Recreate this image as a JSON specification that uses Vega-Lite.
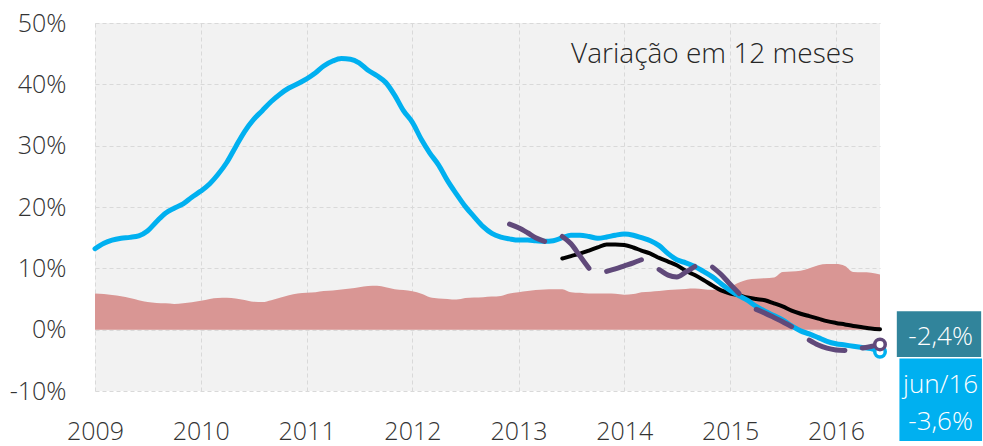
{
  "$schema": "https://vega.github.io/schema/vega-lite/v6.json",
  "width": 785,
  "height": 368,
  "autosize": {"type": "none"},
  "padding": {"left": 95, "top": 23, "right": 103, "bottom": 55},
  "background": "white",
  "config": {
    "view": {"fill": "#F2F2F2", "stroke": null},
    "axis": {
      "grid": true, "gridColor": "#D9D9D9", "gridDash": [4, 3], "gridWidth": 1,
      "domain": false, "ticks": false,
      "labelFont": "Open Sans", "labelFontSize": 25, "labelFontWeight": 300, "labelColor": "#333333",
      "labelFlush": false, "labelOverlap": false
    }
  },
  "datasets": {
    "main": [
      {"t": "2009-01", "inflacao": 5.9, "serie1": 13.2},
      {"t": "2009-02", "inflacao": 5.8, "serie1": 14.1},
      {"t": "2009-03", "inflacao": 5.65, "serie1": 14.6},
      {"t": "2009-04", "inflacao": 5.45, "serie1": 14.9},
      {"t": "2009-05", "inflacao": 5.15, "serie1": 15.05},
      {"t": "2009-06", "inflacao": 4.8, "serie1": 15.3},
      {"t": "2009-07", "inflacao": 4.5, "serie1": 16.1},
      {"t": "2009-08", "inflacao": 4.35, "serie1": 17.6},
      {"t": "2009-09", "inflacao": 4.3, "serie1": 19.0},
      {"t": "2009-10", "inflacao": 4.2, "serie1": 19.8},
      {"t": "2009-11", "inflacao": 4.3, "serie1": 20.5},
      {"t": "2009-12", "inflacao": 4.45, "serie1": 21.6},
      {"t": "2010-01", "inflacao": 4.7, "serie1": 22.6},
      {"t": "2010-02", "inflacao": 5.0, "serie1": 23.8},
      {"t": "2010-03", "inflacao": 5.15, "serie1": 25.3},
      {"t": "2010-04", "inflacao": 5.2, "serie1": 27.3},
      {"t": "2010-05", "inflacao": 5.1, "serie1": 29.8},
      {"t": "2010-06", "inflacao": 4.85, "serie1": 32.3},
      {"t": "2010-07", "inflacao": 4.55, "serie1": 34.2},
      {"t": "2010-08", "inflacao": 4.5, "serie1": 35.7},
      {"t": "2010-09", "inflacao": 4.8, "serie1": 37.2},
      {"t": "2010-10", "inflacao": 5.2, "serie1": 38.4},
      {"t": "2010-11", "inflacao": 5.6, "serie1": 39.4},
      {"t": "2010-12", "inflacao": 5.9, "serie1": 40.1},
      {"t": "2011-01", "inflacao": 6.0, "serie1": 40.9},
      {"t": "2011-02", "inflacao": 6.1, "serie1": 41.9},
      {"t": "2011-03", "inflacao": 6.3, "serie1": 43.0},
      {"t": "2011-04", "inflacao": 6.4, "serie1": 43.8},
      {"t": "2011-05", "inflacao": 6.55, "serie1": 44.2},
      {"t": "2011-06", "inflacao": 6.7, "serie1": 44.1},
      {"t": "2011-07", "inflacao": 6.9, "serie1": 43.5},
      {"t": "2011-08", "inflacao": 7.1, "serie1": 42.3},
      {"t": "2011-09", "inflacao": 7.15, "serie1": 41.4},
      {"t": "2011-10", "inflacao": 6.9, "serie1": 40.3},
      {"t": "2011-11", "inflacao": 6.6, "serie1": 38.2},
      {"t": "2011-12", "inflacao": 6.45, "serie1": 35.7},
      {"t": "2012-01", "inflacao": 6.25, "serie1": 33.8},
      {"t": "2012-02", "inflacao": 5.85, "serie1": 31.0},
      {"t": "2012-03", "inflacao": 5.3, "serie1": 28.8},
      {"t": "2012-04", "inflacao": 5.1, "serie1": 26.8},
      {"t": "2012-05", "inflacao": 5.0, "serie1": 24.3},
      {"t": "2012-06", "inflacao": 4.9, "serie1": 22.1},
      {"t": "2012-07", "inflacao": 5.15, "serie1": 20.1},
      {"t": "2012-08", "inflacao": 5.25, "serie1": 18.4},
      {"t": "2012-09", "inflacao": 5.3, "serie1": 16.8},
      {"t": "2012-10", "inflacao": 5.4, "serie1": 15.7},
      {"t": "2012-11", "inflacao": 5.5, "serie1": 15.1},
      {"t": "2012-12", "inflacao": 5.9, "serie1": 14.8},
      {"t": "2013-01", "inflacao": 6.1, "serie1": 14.6},
      {"t": "2013-02", "inflacao": 6.3, "serie1": 14.6},
      {"t": "2013-03", "inflacao": 6.45, "serie1": 14.5},
      {"t": "2013-04", "inflacao": 6.55, "serie1": 14.4},
      {"t": "2013-05", "inflacao": 6.6, "serie1": 14.5},
      {"t": "2013-06", "inflacao": 6.6, "serie1": 15.0, "serie2": 11.6},
      {"t": "2013-07", "inflacao": 6.1, "serie1": 15.4, "serie2": 12.0},
      {"t": "2013-08", "inflacao": 6.0, "serie1": 15.4, "serie2": 12.4},
      {"t": "2013-09", "inflacao": 5.9, "serie1": 15.2, "serie2": 12.9},
      {"t": "2013-10", "inflacao": 5.9, "serie1": 14.9, "serie2": 13.4},
      {"t": "2013-11", "inflacao": 5.9, "serie1": 15.1, "serie2": 13.9},
      {"t": "2013-12", "inflacao": 5.85, "serie1": 15.4, "serie2": 13.9},
      {"t": "2014-01", "inflacao": 5.7, "serie1": 15.6, "serie2": 13.8},
      {"t": "2014-02", "inflacao": 5.8, "serie1": 15.4, "serie2": 13.4},
      {"t": "2014-03", "inflacao": 6.1, "serie1": 15.0, "serie2": 12.9},
      {"t": "2014-04", "inflacao": 6.2, "serie1": 14.5, "serie2": 12.4},
      {"t": "2014-05", "inflacao": 6.3, "serie1": 13.7, "serie2": 11.7},
      {"t": "2014-06", "inflacao": 6.45, "serie1": 12.4, "serie2": 11.1},
      {"t": "2014-07", "inflacao": 6.55, "serie1": 11.4, "serie2": 10.5},
      {"t": "2014-08", "inflacao": 6.65, "serie1": 10.9, "serie2": 9.6},
      {"t": "2014-09", "inflacao": 6.7, "serie1": 10.3, "serie2": 8.9},
      {"t": "2014-10", "inflacao": 6.6, "serie1": 9.5, "serie2": 8.1},
      {"t": "2014-11", "inflacao": 6.5, "serie1": 8.6, "serie2": 7.2},
      {"t": "2014-12", "inflacao": 6.6, "serie1": 7.5, "serie2": 6.4},
      {"t": "2015-01", "inflacao": 7.0, "serie1": 6.4, "serie2": 5.9},
      {"t": "2015-02", "inflacao": 7.7, "serie1": 5.5, "serie2": 5.6},
      {"t": "2015-03", "inflacao": 8.15, "serie1": 4.8, "serie2": 5.25},
      {"t": "2015-04", "inflacao": 8.3, "serie1": 3.8, "serie2": 5.0},
      {"t": "2015-05", "inflacao": 8.4, "serie1": 3.0, "serie2": 4.8},
      {"t": "2015-06", "inflacao": 8.5, "serie1": 2.3, "serie2": 4.3},
      {"t": "2015-07", "inflacao": 9.4, "serie1": 1.6, "serie2": 3.8},
      {"t": "2015-08", "inflacao": 9.5, "serie1": 0.6, "serie2": 3.1},
      {"t": "2015-09", "inflacao": 9.6, "serie1": -0.2, "serie2": 2.6},
      {"t": "2015-10", "inflacao": 10.0, "serie1": -0.7, "serie2": 2.2},
      {"t": "2015-11", "inflacao": 10.5, "serie1": -1.3, "serie2": 1.8},
      {"t": "2015-12", "inflacao": 10.7, "serie1": -1.9, "serie2": 1.4},
      {"t": "2016-01", "inflacao": 10.7, "serie1": -2.3, "serie2": 1.1},
      {"t": "2016-02", "inflacao": 10.4, "serie1": -2.5, "serie2": 0.85},
      {"t": "2016-03", "inflacao": 9.4, "serie1": -2.7, "serie2": 0.6},
      {"t": "2016-04", "inflacao": 9.35, "serie1": -2.9, "serie2": 0.4},
      {"t": "2016-05", "inflacao": 9.3, "serie1": -3.1, "serie2": 0.2},
      {"t": "2016-06", "inflacao": 9.0, "serie1": -3.6, "serie2": 0.05}
    ],
    "roxo": [
      {"t": "2012-12", "v": 17.2, "seg": 1},
      {"t": "2013-01", "v": 16.6, "seg": 1},
      {"t": "2013-02", "v": 15.8, "seg": 1},
      {"t": "2013-03", "v": 15.0, "seg": 1},
      {"t": "2013-04", "v": 14.4, "seg": 1},
      {"t": "2013-06", "v": 15.2, "seg": 2},
      {"t": "2013-07", "v": 14.0, "seg": 2},
      {"t": "2013-08", "v": 12.0, "seg": 2},
      {"t": "2013-09", "v": 10.0, "seg": 2},
      {"t": "2013-11", "v": 9.5, "seg": 3},
      {"t": "2013-12", "v": 9.9, "seg": 3},
      {"t": "2014-01", "v": 10.4, "seg": 3},
      {"t": "2014-02", "v": 10.9, "seg": 3},
      {"t": "2014-03", "v": 11.4, "seg": 3},
      {"t": "2014-05", "v": 9.8, "seg": 4},
      {"t": "2014-06", "v": 8.9, "seg": 4},
      {"t": "2014-07", "v": 8.6, "seg": 4},
      {"t": "2014-08", "v": 9.4, "seg": 4},
      {"t": "2014-09", "v": 10.3, "seg": 4},
      {"t": "2014-11", "v": 10.2, "seg": 5},
      {"t": "2014-12", "v": 9.0, "seg": 5},
      {"t": "2015-01", "v": 7.4, "seg": 5},
      {"t": "2015-02", "v": 5.9, "seg": 5},
      {"t": "2015-04", "v": 3.3, "seg": 6},
      {"t": "2015-05", "v": 2.7, "seg": 6},
      {"t": "2015-06", "v": 2.0, "seg": 6},
      {"t": "2015-07", "v": 1.3, "seg": 6},
      {"t": "2015-08", "v": 0.5, "seg": 6},
      {"t": "2015-10", "v": -1.7, "seg": 7},
      {"t": "2015-11", "v": -2.5, "seg": 7},
      {"t": "2015-12", "v": -3.0, "seg": 7},
      {"t": "2016-01", "v": -3.3, "seg": 7},
      {"t": "2016-02", "v": -3.4, "seg": 7},
      {"t": "2016-04", "v": -3.0, "seg": 8},
      {"t": "2016-05", "v": -2.75, "seg": 8},
      {"t": "2016-06", "v": -2.4, "seg": 8}
    ]
  },
  "layer": [
    {
      "data": {"name": "main"},
      "mark": {"type": "area", "color": "#D99694", "interpolate": "monotone"},
      "encoding": {
        "x": {
          "field": "t", "type": "temporal", "title": null,
          "scale": {"type": "utc", "nice": false, "domain": [{"year": 2009, "month": 1, "date": 1, "utc": true}, {"year": 2016, "month": 6, "date": 1, "utc": true}]},
          "axis": {"tickCount": {"interval": "year", "step": 1}, "format": "%Y", "labelPadding": 28}
        },
        "y": {
          "field": "inflacao", "type": "quantitative", "title": null,
          "scale": {"domain": [-10, 50], "nice": false, "zero": false},
          "axis": {"values": [-10, 0, 10, 20, 30, 40, 50], "labelExpr": "datum.value + '%'", "labelPadding": 29}
        }
      }
    },
    {
      "data": {"name": "main"},
      "mark": {"type": "line", "color": "#000000", "strokeWidth": 4, "interpolate": "monotone", "strokeCap": "round"},
      "encoding": {
        "x": {"field": "t", "type": "temporal", "title": null},
        "y": {"field": "serie2", "type": "quantitative", "title": null}
      }
    },
    {
      "data": {"name": "main"},
      "mark": {"type": "line", "color": "#00B0F0", "strokeWidth": 5, "interpolate": "monotone", "strokeCap": "round"},
      "encoding": {
        "x": {"field": "t", "type": "temporal", "title": null},
        "y": {"field": "serie1", "type": "quantitative", "title": null}
      }
    },
    {
      "data": {"name": "roxo"},
      "mark": {"type": "line", "color": "#60497A", "strokeWidth": 5, "interpolate": "monotone", "strokeCap": "round"},
      "encoding": {
        "x": {"field": "t", "type": "temporal", "title": null},
        "y": {"field": "v", "type": "quantitative", "title": null},
        "detail": {"field": "seg", "type": "nominal"}
      }
    },
    {
      "data": {"values": [{}]},
      "mark": {"type": "point", "shape": "circle", "filled": true, "fill": "white", "stroke": "#00B0F0", "strokeWidth": 3.5, "size": 110, "opacity": 1},
      "encoding": {
        "x": {"datum": {"year": 2016, "month": 6, "date": 1, "utc": true}, "type": "temporal"},
        "y": {"datum": -3.6, "type": "quantitative"}
      }
    },
    {
      "data": {"values": [{}]},
      "mark": {"type": "point", "shape": "circle", "filled": true, "fill": "white", "stroke": "#60497A", "strokeWidth": 3.5, "size": 110, "opacity": 1},
      "encoding": {
        "x": {"datum": {"year": 2016, "month": 6, "date": 1, "utc": true}, "type": "temporal"},
        "y": {"datum": -2.4, "type": "quantitative"}
      }
    },
    {
      "data": {"values": [{}]},
      "mark": {"type": "rect", "color": "#31849B"},
      "encoding": {
        "x": {"datum": {"year": 2016, "month": 7, "date": 29, "utc": true}, "type": "temporal"},
        "x2": {"datum": {"year": 2017, "month": 5, "date": 16, "utc": true}},
        "y": {"datum": 3.0, "type": "quantitative"},
        "y2": {"datum": -4.45}
      }
    },
    {
      "data": {"values": [{}]},
      "mark": {"type": "rect", "color": "#00B0F0"},
      "encoding": {
        "x": {"datum": {"year": 2016, "month": 8, "date": 7, "utc": true}, "type": "temporal"},
        "x2": {"datum": {"year": 2017, "month": 5, "date": 19, "utc": true}},
        "y": {"datum": -4.71, "type": "quantitative"},
        "y2": {"datum": -18.16}
      }
    },
    {
      "data": {"values": [{}]},
      "mark": {"type": "text", "text": "-2,4%", "font": "Open Sans", "fontSize": 26, "fontWeight": 300, "color": "white", "align": "center", "baseline": "alphabetic"},
      "encoding": {
        "x": {"datum": {"year": 2016, "month": 12, "date": 27, "utc": true}, "type": "temporal"},
        "y": {"datum": -2.55, "type": "quantitative"}
      }
    },
    {
      "data": {"values": [{}]},
      "mark": {"type": "text", "text": "jun/16", "font": "Open Sans", "fontSize": 26, "fontWeight": 300, "color": "white", "align": "center", "baseline": "alphabetic"},
      "encoding": {
        "x": {"datum": {"year": 2016, "month": 12, "date": 27, "utc": true}, "type": "temporal"},
        "y": {"datum": -10.4, "type": "quantitative"}
      }
    },
    {
      "data": {"values": [{}]},
      "mark": {"type": "text", "text": "-3,6%", "font": "Open Sans", "fontSize": 26, "fontWeight": 300, "color": "white", "align": "center", "baseline": "alphabetic"},
      "encoding": {
        "x": {"datum": {"year": 2016, "month": 12, "date": 27, "utc": true}, "type": "temporal"},
        "y": {"datum": -16.4, "type": "quantitative"}
      }
    },
    {
      "data": {"values": [{}]},
      "mark": {"type": "text", "text": "Variação em 12 meses", "font": "Open Sans", "fontSize": 28, "fontWeight": 300, "color": "#262626", "align": "right", "baseline": "alphabetic"},
      "encoding": {
        "x": {"datum": {"year": 2016, "month": 3, "date": 4, "utc": true}, "type": "temporal"},
        "y": {"datum": 43.4, "type": "quantitative"}
      }
    }
  ]
}
